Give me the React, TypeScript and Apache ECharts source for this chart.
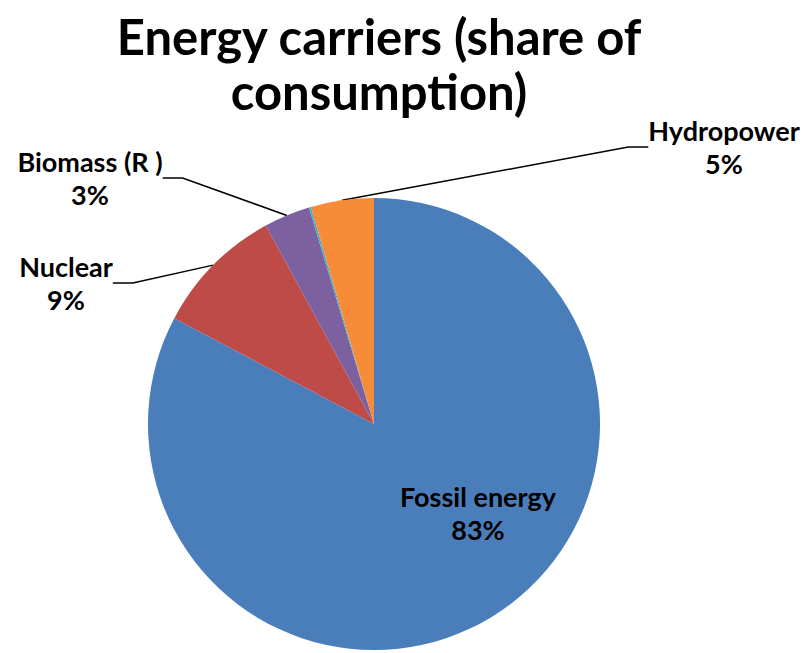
import React, { useEffect, useRef } from "react";
import * as echarts from "echarts";

const categories = ["Fossil energy", "Nuclear", "Biomass (R )", "Other", "Hydropower"];
const values = [82.8, 9.3, 3.3, 0.15, 4.5];
const colors = ["#4A7EBB", "#BE4B48", "#7D60A0", "#4BACC6", "#F68B38"];
const showLabel = [true, true, true, false, true];
const titleText = "Energy carriers (share of\nconsumption)";

// label anchor positions (layout only)
const labelPos: Record<number, { x: number; y: number }> = {
  0: { x: 478, y: 513 },
  1: { x: 66, y: 283 },
  2: { x: 90, y: 178 },
  4: { x: 724, y: 147 },
};

export default function App() {
  const ref = useRef<HTMLDivElement>(null);
  useEffect(() => {
    document.body.style.margin = "0";
    const chart = echarts.init(ref.current!, undefined, { renderer: "svg" });
    const font = "Lato, 'Open Sans', sans-serif";
    chart.setOption({
      animation: false,
      backgroundColor: "#ffffff",
      title: {
        text: titleText,
        left: 374,
        top: 3,
        textAlign: "center",
        textStyle: {
          fontFamily: font,
          fontSize: 49,
          fontWeight: "bold",
          lineHeight: 55,
          color: "#000",
        },
      },
      series: [
        {
          type: "pie",
          center: [374, 424],
          radius: 226,
          startAngle: 90,
          clockwise: true,
          avoidLabelOverlap: false,
          itemStyle: { borderWidth: 0 },
          label: {
            show: true,
            position: "outside",
            fontFamily: font,
            fontSize: 27,
            fontWeight: "bold",
            lineHeight: 33,
            color: "#000",
            align: "center",
            formatter: (p: any) => `${p.name}\n${Math.round(p.value)}%`,
          },
          labelLine: {
            show: true,
            length: 30,
            length2: 20,
            lineStyle: { color: "#000", width: 1.5 },
          },
          labelLayout: (params: any) => {
            const pos = labelPos[params.dataIndex];
            if (!pos) return {};
            return { x: pos.x, y: pos.y, align: "center", verticalAlign: "middle" };
          },
          data: categories.map((name, i) => ({
            name,
            value: values[i],
            itemStyle: { color: colors[i] },
            label:
              i === 0
                ? { show: true, position: "inside" }
                : { show: showLabel[i] },
            labelLine: { show: i !== 0 && showLabel[i] },
          })),
        },
      ],
    });
    return () => chart.dispose();
  }, []);
  return <div ref={ref} style={{ width: 810, height: 653 }} />;
}
